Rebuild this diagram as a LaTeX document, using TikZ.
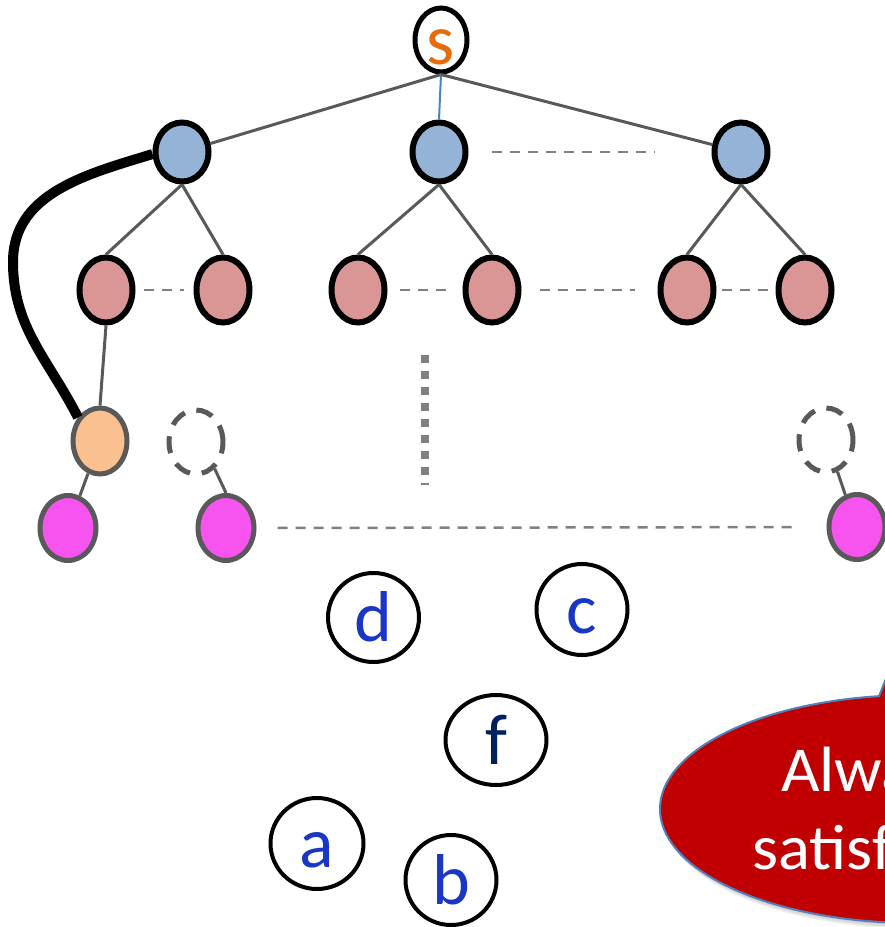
\documentclass[tikz,border=0pt]{standalone}
\usepackage{fontspec}
\setmainfont{Carlito}
\newfontfamily\bubblefont[FakeStretch=1.04]{Carlito}
\usetikzlibrary{shapes.geometric}

\definecolor{edgegray}{HTML}{595959}
\definecolor{dashgray}{HTML}{808080}
\definecolor{lvlone}{HTML}{95B3D7}
\definecolor{lvltwo}{HTML}{D99694}
\definecolor{peach}{HTML}{FAC090}
\definecolor{leafpink}{HTML}{F653EF}
\definecolor{srcorange}{HTML}{E46C0A}
\definecolor{letterblue}{HTML}{1A36C4}
\definecolor{navy}{HTML}{002060}
\definecolor{calloutred}{HTML}{C00000}
\definecolor{calloutline}{HTML}{4F81BD}

% label set on a fixed baseline below the node centre, taking no room
\newcommand{\ctrtxt}[1]{\smash{\makebox[0pt]{\raisebox{-24pt}{#1}}}}

\tikzset{
  vtx/.style={ellipse, inner sep=0pt, draw=black, line width=6pt},
  srcnode/.style={vtx, line width=5pt, fill=white, minimum width=52pt, minimum height=64pt,
    text=srcorange, font=\fontsize{72}{72}\selectfont},
  bluenode/.style={vtx, fill=lvlone, minimum width=53pt, minimum height=59pt},
  rosenode/.style={vtx, fill=lvltwo, minimum width=53pt, minimum height=65pt},
  peachnode/.style={vtx, draw=edgegray, line width=5pt, fill=peach, minimum width=54pt, minimum height=66pt},
  leafnode/.style={vtx, draw=edgegray, line width=5pt, fill=leafpink, minimum width=56pt, minimum height=65pt},
  ghostnode/.style={ellipse, inner sep=0pt, draw=edgegray, line width=5pt,
    dash pattern=on 17pt off 12pt, minimum width=54pt, minimum height=64pt},
  letternode/.style={ellipse, inner sep=0pt, draw=black, line width=4pt, fill=white,
    text=letterblue, font=\fontsize{72}{72}\selectfont},
  treeedge/.style={draw=edgegray, line width=3pt},
  gapline/.style={draw=dashgray, line width=2.5pt, dash pattern=on 10pt off 8pt},
  bubbletext/.style={anchor=base west, inner sep=0pt, text=white,
    font=\bubblefont\fontsize{64}{64}\selectfont},
}

\begin{document}
\begin{tikzpicture}[x=1pt,y=-1pt]
\useasboundingbox (0,0) rectangle (885,927);
\clip (0,0) rectangle (885,927);

% speech bubble with a soft shadow
\foreach \dx/\dy in {1/2, 2/4, 3/6}
  \fill[black, opacity=0.07] (915+\dx,809+\dy) ellipse [x radius=255, y radius=114];
\filldraw[fill=calloutred, draw=calloutline, line width=2pt]
  (915,809) ++(261.9:255 and 114)
  arc[start angle=261.9, end angle=-80, x radius=255, y radius=114]
  -- (905,630) -- cycle;
\node[bubbletext] (alw) at (781,791) {Always};
\node[bubbletext] (sat) at (752,869) {satisfied};

% source
\node[srcnode] (s) at (441,40) {\ctrtxt{s}};

% first level
\node[bluenode] (b1) at (182,152) {};
\node[bluenode] (b2) at (439,152) {};
\node[bluenode] (b3) at (741,152) {};

% second level
\node[rosenode] (p1) at (106,290) {};
\node[rosenode] (p2) at (223,290) {};
\node[rosenode] (p3) at (358,290) {};
\node[rosenode] (p4) at (492,290) {};
\node[rosenode] (p5) at (687,290) {};
\node[rosenode] (p6) at (805,290) {};

% deeper levels
\node[peachnode] (o) at (100,441) {};
\node[ghostnode] (g1) at (196,442) {};
\node[ghostnode] (g2) at (826,440) {};
\node[leafnode] (m1) at (68,528) {};
\node[leafnode] (m2) at (226,528) {};
\node[leafnode] (m3) at (857,527) {};

% tree edges
\draw[treeedge] (s.south) -- (b1);
\draw[draw=calloutline, line width=2pt] (s.south) -- (b2.north);
\draw[treeedge] (s.south) -- (b3);
\draw[treeedge] (b1.south) -- (p1.north);
\draw[treeedge] (b1.south) -- (p2.north);
\draw[treeedge] (b2.south) -- (p3.north);
\draw[treeedge] (b2.south) -- (p4.north);
\draw[treeedge] (b3.south) -- (p5.north);
\draw[treeedge] (b3.south) -- (p6.north);
\draw[treeedge] (p1.south) -- (o.north);
\draw[treeedge] (o) -- (m1);
\draw[treeedge] (g1.-55) -- (m2.north);
\draw[treeedge] (g2.-70) -- (m3.110);

% the long back edge
\draw[line width=10pt, black] (b1.184) to[out=197,in=90] (13,262) to[out=270,in=117] (o.133);

% elided siblings
\draw[gapline, shorten <=8.5pt, shorten >=10pt] (p1.east) -- (p2.west);
\draw[gapline, shorten <=12.5pt, shorten >=12.5pt] (p3.east) -- (p4.west);
\draw[gapline, shorten <=18.5pt, shorten >=22.5pt] (p4.east) -- (p5.west);
\draw[gapline, shorten <=5.5pt, shorten >=5.5pt] (p5.east) -- (p6.west);
\draw[gapline, shorten <=23.5pt, shorten >=56.5pt] (b2.east) -- (b3.west);
\draw[gapline, shorten <=21pt, shorten >=32pt] (m2.east) -- (m3.west);

% elided levels
\coordinate (vtop) at (425,355);
\coordinate (vbot) at (425,485);
\draw[draw=dashgray, line width=8pt, dash pattern=on 8pt off 8pt] (vtop) -- (vbot);

% loose vertices
\node[letternode, minimum width=91pt, minimum height=89pt] (d) at (373.5,617.5) {\ctrtxt{d}};
\node[letternode, minimum width=91pt, minimum height=91pt] (c) at (582,609.5) {\ctrtxt{c}};
\node[letternode, minimum width=101pt, minimum height=90pt, text=navy] (f) at (496,740) {\ctrtxt{f}};
\node[letternode, minimum width=93pt, minimum height=91pt] (a) at (317,843.5) {\ctrtxt{a}};
\node[letternode, minimum width=91pt, minimum height=90pt] (b) at (451,880) {\ctrtxt{b}};
\end{tikzpicture}
\end{document}
